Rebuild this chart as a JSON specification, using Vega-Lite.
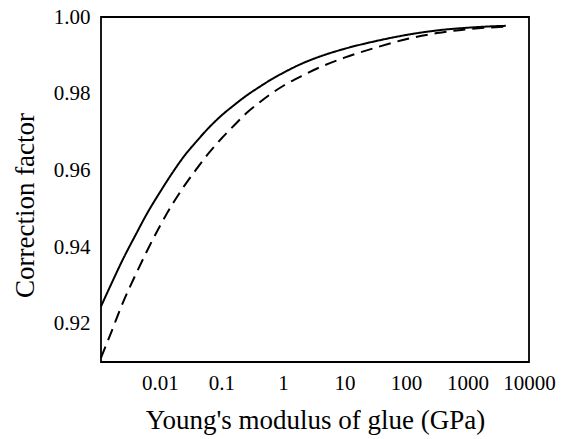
{
  "$schema": "https://vega.github.io/schema/vega-lite/v6.json",
  "width": 428,
  "height": 345,
  "autosize": {"type": "none"},
  "padding": {"left": 101, "top": 17, "right": 42, "bottom": 77},
  "background": "white",
  "config": {
    "view": {"stroke": "black", "strokeWidth": 1.8},
    "font": "Liberation Serif",
    "rule": {"color": "black", "strokeWidth": 2, "opacity": 1},
    "axis": {
      "grid": false,
      "domain": false,
      "ticks": false,
      "labelFont": "Liberation Serif",
      "labelFontSize": 21,
      "labelColor": "black",
      "titleFont": "Liberation Serif",
      "titleFontSize": 27,
      "titleFontWeight": "normal",
      "titleColor": "black",
      "labelOverlap": false,
      "labelFlush": false
    }
  },
  "datasets": {
    "curves": [
      {"modulus": 0.0011, "factor": 0.9245, "curve": "solid"},
      {"modulus": 0.0016, "factor": 0.9302, "curve": "solid"},
      {"modulus": 0.0025, "factor": 0.9368, "curve": "solid"},
      {"modulus": 0.004, "factor": 0.9431, "curve": "solid"},
      {"modulus": 0.0063, "factor": 0.9490, "curve": "solid"},
      {"modulus": 0.01, "factor": 0.9543, "curve": "solid"},
      {"modulus": 0.016, "factor": 0.9594, "curve": "solid"},
      {"modulus": 0.025, "factor": 0.9638, "curve": "solid"},
      {"modulus": 0.04, "factor": 0.9677, "curve": "solid"},
      {"modulus": 0.063, "factor": 0.9712, "curve": "solid"},
      {"modulus": 0.1, "factor": 0.9743, "curve": "solid"},
      {"modulus": 0.16, "factor": 0.9770, "curve": "solid"},
      {"modulus": 0.25, "factor": 0.9794, "curve": "solid"},
      {"modulus": 0.4, "factor": 0.9816, "curve": "solid"},
      {"modulus": 0.63, "factor": 0.9836, "curve": "solid"},
      {"modulus": 1, "factor": 0.9854, "curve": "solid"},
      {"modulus": 2, "factor": 0.9878, "curve": "solid"},
      {"modulus": 4, "factor": 0.9897, "curve": "solid"},
      {"modulus": 10, "factor": 0.9917, "curve": "solid"},
      {"modulus": 32, "factor": 0.9937, "curve": "solid"},
      {"modulus": 100, "factor": 0.9953, "curve": "solid"},
      {"modulus": 320, "factor": 0.9965, "curve": "solid"},
      {"modulus": 1000, "factor": 0.9972, "curve": "solid"},
      {"modulus": 2000, "factor": 0.9975, "curve": "solid"},
      {"modulus": 4200, "factor": 0.9977, "curve": "solid"},
      {"modulus": 0.0011, "factor": 0.9111, "curve": "dashed"},
      {"modulus": 0.0016, "factor": 0.9176, "curve": "dashed"},
      {"modulus": 0.0025, "factor": 0.9255, "curve": "dashed"},
      {"modulus": 0.004, "factor": 0.9327, "curve": "dashed"},
      {"modulus": 0.0063, "factor": 0.9393, "curve": "dashed"},
      {"modulus": 0.01, "factor": 0.9455, "curve": "dashed"},
      {"modulus": 0.016, "factor": 0.9512, "curve": "dashed"},
      {"modulus": 0.025, "factor": 0.9560, "curve": "dashed"},
      {"modulus": 0.04, "factor": 0.9605, "curve": "dashed"},
      {"modulus": 0.063, "factor": 0.9646, "curve": "dashed"},
      {"modulus": 0.1, "factor": 0.9683, "curve": "dashed"},
      {"modulus": 0.16, "factor": 0.9717, "curve": "dashed"},
      {"modulus": 0.25, "factor": 0.9748, "curve": "dashed"},
      {"modulus": 0.4, "factor": 0.9775, "curve": "dashed"},
      {"modulus": 0.63, "factor": 0.9799, "curve": "dashed"},
      {"modulus": 1, "factor": 0.9820, "curve": "dashed"},
      {"modulus": 2, "factor": 0.9846, "curve": "dashed"},
      {"modulus": 4, "factor": 0.9869, "curve": "dashed"},
      {"modulus": 10, "factor": 0.9894, "curve": "dashed"},
      {"modulus": 32, "factor": 0.9920, "curve": "dashed"},
      {"modulus": 100, "factor": 0.9942, "curve": "dashed"},
      {"modulus": 320, "factor": 0.9958, "curve": "dashed"},
      {"modulus": 1000, "factor": 0.9968, "curve": "dashed"},
      {"modulus": 2000, "factor": 0.9972, "curve": "dashed"},
      {"modulus": 4200, "factor": 0.9975, "curve": "dashed"}
    ],
    "xticks": [
      {"modulus": 0.002, "kind": "minor"}, {"modulus": 0.003, "kind": "minor"}, {"modulus": 0.004, "kind": "minor"}, {"modulus": 0.005, "kind": "minor"}, {"modulus": 0.006, "kind": "minor"}, {"modulus": 0.007, "kind": "minor"}, {"modulus": 0.008, "kind": "minor"}, {"modulus": 0.009, "kind": "minor"},
      {"modulus": 0.01, "kind": "major"},
      {"modulus": 0.02, "kind": "minor"}, {"modulus": 0.03, "kind": "minor"}, {"modulus": 0.04, "kind": "minor"}, {"modulus": 0.05, "kind": "minor"}, {"modulus": 0.06, "kind": "minor"}, {"modulus": 0.07, "kind": "minor"}, {"modulus": 0.08, "kind": "minor"}, {"modulus": 0.09, "kind": "minor"},
      {"modulus": 0.1, "kind": "major"},
      {"modulus": 0.2, "kind": "minor"}, {"modulus": 0.3, "kind": "minor"}, {"modulus": 0.4, "kind": "minor"}, {"modulus": 0.5, "kind": "minor"}, {"modulus": 0.6, "kind": "minor"}, {"modulus": 0.7, "kind": "minor"}, {"modulus": 0.8, "kind": "minor"}, {"modulus": 0.9, "kind": "minor"},
      {"modulus": 1, "kind": "major"},
      {"modulus": 2, "kind": "minor"}, {"modulus": 3, "kind": "minor"}, {"modulus": 4, "kind": "minor"}, {"modulus": 5, "kind": "minor"}, {"modulus": 6, "kind": "minor"}, {"modulus": 7, "kind": "minor"}, {"modulus": 8, "kind": "minor"}, {"modulus": 9, "kind": "minor"},
      {"modulus": 10, "kind": "major"},
      {"modulus": 20, "kind": "minor"}, {"modulus": 30, "kind": "minor"}, {"modulus": 40, "kind": "minor"}, {"modulus": 50, "kind": "minor"}, {"modulus": 60, "kind": "minor"}, {"modulus": 70, "kind": "minor"}, {"modulus": 80, "kind": "minor"}, {"modulus": 90, "kind": "minor"},
      {"modulus": 100, "kind": "major"},
      {"modulus": 200, "kind": "minor"}, {"modulus": 300, "kind": "minor"}, {"modulus": 400, "kind": "minor"}, {"modulus": 500, "kind": "minor"}, {"modulus": 600, "kind": "minor"}, {"modulus": 700, "kind": "minor"}, {"modulus": 800, "kind": "minor"}, {"modulus": 900, "kind": "minor"},
      {"modulus": 1000, "kind": "major"},
      {"modulus": 2000, "kind": "minor"}, {"modulus": 3000, "kind": "minor"}, {"modulus": 4000, "kind": "minor"}, {"modulus": 5000, "kind": "minor"}, {"modulus": 6000, "kind": "minor"}, {"modulus": 7000, "kind": "minor"}, {"modulus": 8000, "kind": "minor"}, {"modulus": 9000, "kind": "minor"},
      {"modulus": 10000, "kind": "major"}
    ],
    "yticks": [
      {"factor": 0.92, "kind": "major"}, {"factor": 0.93, "kind": "minor"},
      {"factor": 0.94, "kind": "major"}, {"factor": 0.95, "kind": "minor"},
      {"factor": 0.96, "kind": "major"}, {"factor": 0.97, "kind": "minor"},
      {"factor": 0.98, "kind": "major"}, {"factor": 0.99, "kind": "minor"},
      {"factor": 1.0, "kind": "major"}
    ]
  },
  "encoding": {
    "x": {
      "field": "modulus",
      "type": "quantitative",
      "scale": {"type": "log", "domain": [0.0011, 10000], "nice": false},
      "axis": {
        "orient": "bottom",
        "title": "Young's modulus of glue (GPa)",
        "titleY": 66,
        "titleBaseline": "alphabetic",
        "values": [0.01, 0.1, 1, 10, 100, 1000, 10000],
        "format": "~g",
        "labelPadding": 10
      }
    },
    "y": {
      "field": "factor",
      "type": "quantitative",
      "scale": {"domain": [0.91, 1.0], "nice": false, "zero": false},
      "axis": {
        "orient": "left",
        "title": "Correction factor",
        "titleX": -76,
        "titleY": 188,
        "titleBaseline": "middle",
        "values": [0.92, 0.94, 0.96, 0.98, 1.0],
        "format": ".2f",
        "labelPadding": 11
      }
    }
  },
  "layer": [
    {
      "data": {"name": "curves"},
      "mark": {"type": "line", "interpolate": "monotone", "color": "black", "strokeWidth": 2},
      "encoding": {
        "strokeDash": {
          "field": "curve",
          "type": "nominal",
          "scale": {"domain": ["solid", "dashed"], "range": [[1, 0], [12, 7]]},
          "legend": null
        }
      }
    },
    {
      "data": {"name": "xticks"},
      "transform": [{"filter": "datum.kind === 'major'"}],
      "mark": {"type": "rule"},
      "encoding": {"y": {"datum": 0.91}, "y2": {"datum": 0.90817}}
    },
    {
      "data": {"name": "xticks"},
      "transform": [{"filter": "datum.kind === 'minor'"}],
      "mark": {"type": "rule"},
      "encoding": {"y": {"datum": 0.91}, "y2": {"datum": 0.90896}}
    },
    {
      "data": {"name": "xticks"},
      "transform": [{"filter": "datum.kind === 'major'"}],
      "mark": {"type": "rule"},
      "encoding": {"y": {"datum": 1.0}, "y2": {"datum": 0.99817}}
    },
    {
      "data": {"name": "xticks"},
      "transform": [{"filter": "datum.kind === 'minor'"}],
      "mark": {"type": "rule"},
      "encoding": {"y": {"datum": 1.0}, "y2": {"datum": 0.99896}}
    },
    {
      "data": {"name": "yticks"},
      "transform": [{"filter": "datum.kind === 'major'"}],
      "mark": {"type": "rule"},
      "encoding": {"x": {"datum": 0.0011}, "x2": {"datum": 0.00085}}
    },
    {
      "data": {"name": "yticks"},
      "transform": [{"filter": "datum.kind === 'minor'"}],
      "mark": {"type": "rule"},
      "encoding": {"x": {"datum": 0.0011}, "x2": {"datum": 0.00095}}
    },
    {
      "data": {"name": "yticks"},
      "transform": [{"filter": "datum.kind === 'major'"}],
      "mark": {"type": "rule"},
      "encoding": {"x": {"datum": 10000}, "x2": {"datum": 7700}}
    },
    {
      "data": {"name": "yticks"},
      "transform": [{"filter": "datum.kind === 'minor'"}],
      "mark": {"type": "rule"},
      "encoding": {"x": {"datum": 10000}, "x2": {"datum": 8600}}
    }
  ]
}
